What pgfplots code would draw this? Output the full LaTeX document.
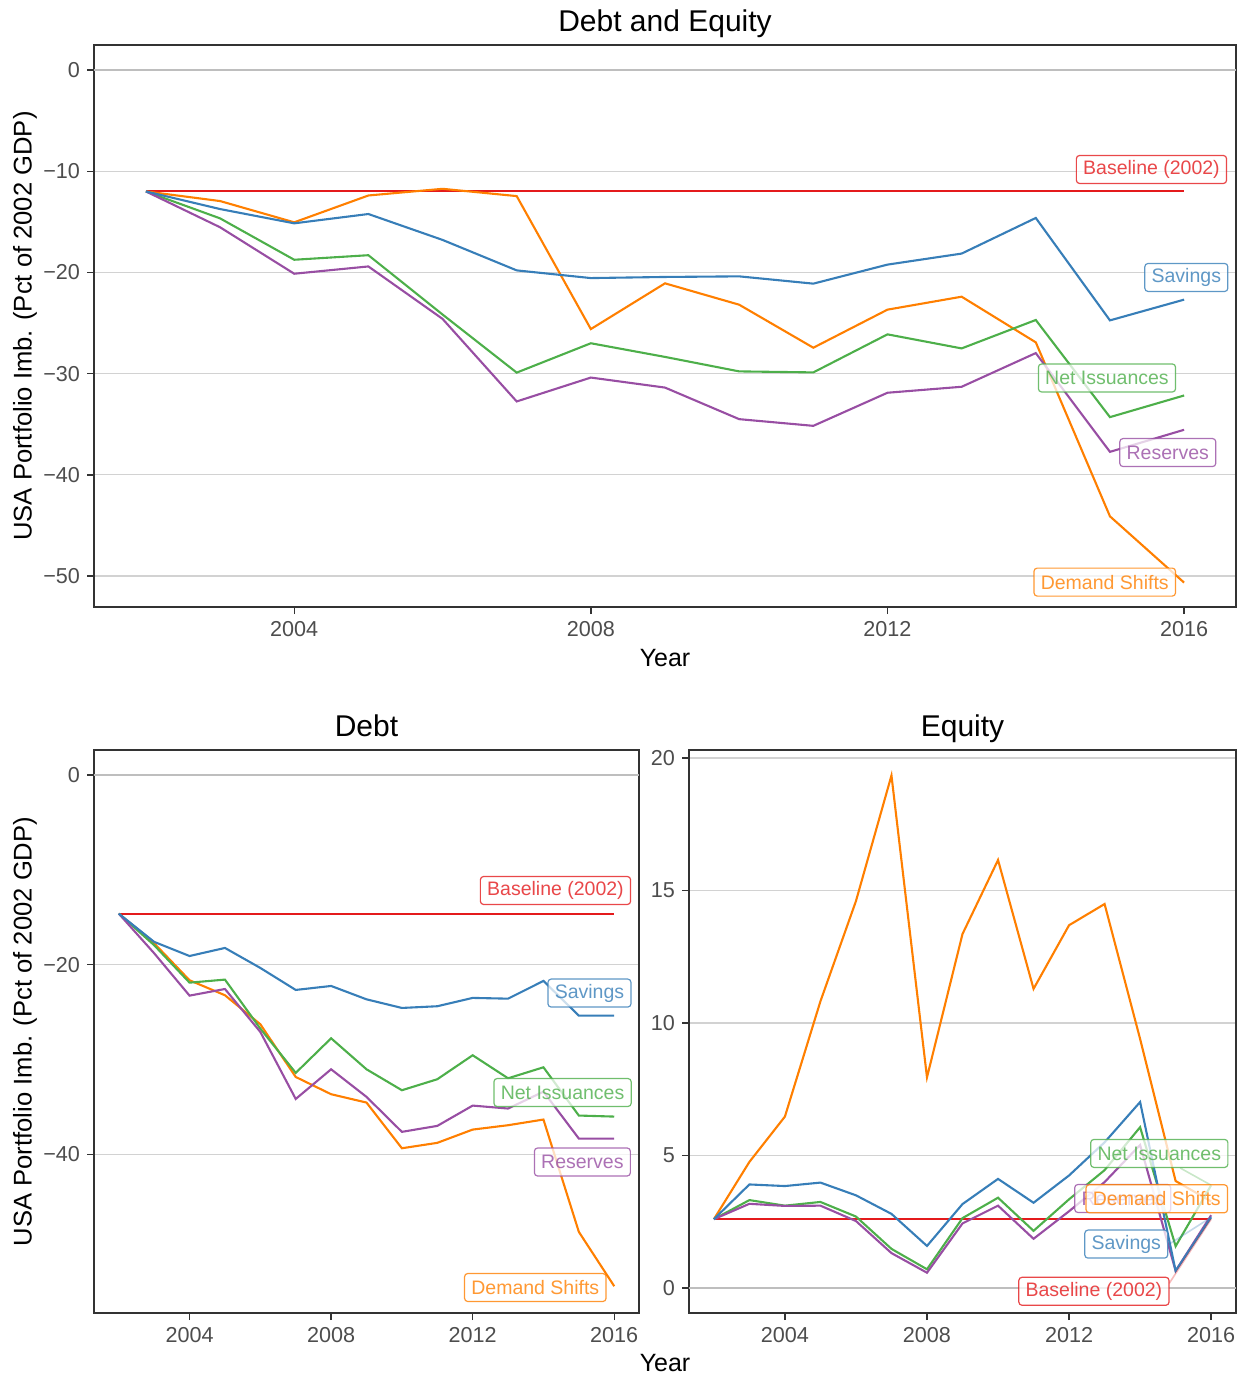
\documentclass[border=0pt]{standalone}
\usepackage{pgfplots}
\pgfplotsset{compat=1.18}
\usepackage{pgfplotstable}
\usepackage{fontspec}
\setmainfont{Liberation Sans}

\definecolor{cRed}{HTML}{E41A1C}
\definecolor{cBlue}{HTML}{377EB8}
\definecolor{cGreen}{HTML}{4DAF4A}
\definecolor{cPurple}{HTML}{984EA3}
\definecolor{cOrange}{HTML}{FF7F00}
\definecolor{gridc}{HTML}{D2D2D2}
\definecolor{zeroc}{HTML}{BEBEBE}
\definecolor{axc}{HTML}{333333}
\definecolor{tickc}{HTML}{4D4D4D}

% Debt and Equity (total)
\pgfplotstableread{
year base sav net res dem
2002 -12.0 -12.00 -12.00 -12.00 -12.00
2003 -12.0 -13.74 -14.66 -15.54 -12.95
2004 -12.0 -15.15 -18.75 -20.13 -15.05
2005 -12.0 -14.23 -18.30 -19.41 -12.40
2006 -12.0 -16.79 -24.16 -24.59 -11.74
2007 -12.0 -19.80 -29.90 -32.75 -12.46
2008 -12.0 -20.56 -27.00 -30.39 -25.60
2009 -12.0 -20.45 -28.35 -31.38 -21.08
2010 -12.0 -20.39 -29.78 -34.50 -23.19
2011 -12.0 -21.11 -29.88 -35.16 -27.44
2012 -12.0 -19.23 -26.12 -31.89 -23.68
2013 -12.0 -18.14 -27.51 -31.30 -22.40
2014 -12.0 -14.62 -24.70 -27.97 -26.91
2015 -12.0 -24.74 -34.30 -37.73 -44.10
2016 -12.0 -22.69 -32.16 -35.55 -50.65
}\tabTotal

% Debt
\pgfplotstableread{
year base sav net res dem
2002 -14.62 -14.62 -14.62 -14.62 -14.62
2003 -14.62 -17.60 -17.95 -18.80 -17.75
2004 -14.62 -19.09 -21.90 -23.27 -21.65
2005 -14.62 -18.24 -21.58 -22.57 -23.23
2006 -14.62 -20.35 -26.75 -27.10 -26.29
2007 -14.62 -22.67 -31.42 -34.17 -31.85
2008 -14.62 -22.25 -27.77 -31.04 -33.67
2009 -14.62 -23.66 -31.04 -33.95 -34.55
2010 -14.62 -24.57 -33.25 -37.64 -39.37
2011 -14.62 -24.39 -32.09 -37.01 -38.80
2012 -14.62 -23.51 -29.56 -34.87 -37.40
2013 -14.62 -23.59 -31.99 -35.18 -36.94
2014 -14.62 -21.72 -30.83 -33.40 -36.34
2015 -14.62 -25.38 -35.92 -38.35 -48.19
2016 -14.62 -25.38 -36.03 -38.35 -53.92
}\tabDebt

% Equity
\pgfplotstableread{
year base sav net res dem
2002 2.6 2.60 2.60 2.60 2.60
2003 2.6 3.91 3.32 3.18 4.76
2004 2.6 3.85 3.11 3.10 6.47
2005 2.6 3.98 3.25 3.11 10.82
2006 2.6 3.50 2.70 2.53 14.60
2007 2.6 2.80 1.48 1.32 19.34
2008 2.6 1.59 0.71 0.58 7.95
2009 2.6 3.17 2.64 2.44 13.36
2010 2.6 4.12 3.41 3.11 16.15
2011 2.6 3.22 2.16 1.86 11.29
2012 2.6 4.25 3.35 2.90 13.69
2013 2.6 5.50 4.45 4.00 14.49
2014 2.6 7.02 6.07 5.40 9.40
2015 2.6 0.65 1.58 0.65 4.04
2016 2.6 2.67 3.88 2.75 3.27
}\tabEq

\pgfplotsset{
  panel/.style={
    scale only axis, anchor=north west,
    axis line style={draw=axc, line width=0.7pt},
    every tick/.style={draw=axc, line width=0.7pt},
    tick align=outside, major tick length=3.5pt,
    xtick pos=left, ytick pos=left,
    ymajorgrids, xmajorgrids=false,
    major grid style={draw=gridc, line width=0.55pt},
    tick label style={font=\fontsize{10.8}{13}\selectfont, text=tickc},
    xmin=2001.3, xmax=2016.7,
    xtick={2004,2008,2012,2016}, xticklabels={2004,2008,2012,2016},
    every axis plot/.append style={line width=1.05pt, mark=none},
  },
}
\tikzset{
  lab/.style={draw=#1, draw opacity=0.8, text=#1, text opacity=0.8,
    fill=white, fill opacity=0.75, rounded corners=1.6pt, line width=0.6pt,
    font=\fontsize{9.75}{11}\selectfont, inner xsep=3.4pt, inner ysep=0pt,
    minimum height=14pt, anchor=center},
}

\begin{document}
\begin{tikzpicture}
\useasboundingbox (0,0) rectangle (619pt,-687pt);

% ---------- Top: Debt and Equity ----------
\begin{axis}[panel, at={(47pt,-22.5pt)}, width=571pt, height=281pt,
  ymin=-53.06, ymax=2.47,
  ytick={-50,-40,-30,-20,-10,0}, yticklabels={−50,−40,−30,−20,−10,0}]
\addplot[zeroc, line width=1pt, forget plot] coordinates {(2001.3,0) (2016.7,0)};
\addplot[cRed] table[x=year,y=base] {\tabTotal};
\addplot[cOrange] table[x=year,y=dem] {\tabTotal};
\addplot[cGreen] table[x=year,y=net] {\tabTotal};
\addplot[cPurple] table[x=year,y=res] {\tabTotal};
\addplot[cBlue] table[x=year,y=sav] {\tabTotal};
\node[lab=cRed] at (axis cs:2015.56,-9.83) {Baseline (2002)};
\node[lab=cBlue] at (axis cs:2016.03,-20.5) {Savings};
\node[lab=cGreen] at (axis cs:2014.96,-30.43) {Net Issuances};
\node[lab=cPurple] at (axis cs:2015.78,-37.8) {Reserves};
\node[lab=cOrange] at (axis cs:2014.93,-50.6) {Demand Shifts};
\end{axis}

% ---------- Bottom left: Debt ----------
\begin{axis}[panel, at={(47pt,-375pt)}, width=272.5pt, height=281.5pt,
  ymin=-56.75, ymax=2.64,
  ytick={-40,-20,0}, yticklabels={−40,−20,0}]
\addplot[zeroc, line width=1pt, forget plot] coordinates {(2001.3,0) (2016.7,0)};
\addplot[cRed] table[x=year,y=base] {\tabDebt};
\addplot[cOrange] table[x=year,y=dem] {\tabDebt};
\addplot[cGreen] table[x=year,y=net] {\tabDebt};
\addplot[cPurple] table[x=year,y=res] {\tabDebt};
\addplot[cBlue] table[x=year,y=sav] {\tabDebt};
\node[lab=cRed] at (axis cs:2014.34,-12.18) {Baseline (2002)};
\node[lab=cBlue] at (axis cs:2015.30,-23.0) {Savings};
\node[lab=cGreen] at (axis cs:2014.54,-33.49) {Net Issuances};
\node[lab=cPurple] at (axis cs:2015.10,-40.82) {Reserves};
\node[lab=cOrange] at (axis cs:2013.77,-54.06) {Demand Shifts};
\end{axis}

% ---------- Bottom right: Equity ----------
\begin{axis}[panel, at={(344.5pt,-375pt)}, width=273.5pt, height=281.5pt,
  ymin=-0.94, ymax=20.3,
  ytick={0,5,10,15,20}, yticklabels={0,5,10,15,20}]
\addplot[zeroc, line width=1pt, forget plot] coordinates {(2001.3,0) (2016.7,0)};
\addplot[cRed] table[x=year,y=base] {\tabEq};
\addplot[cOrange] table[x=year,y=dem] {\tabEq};
\addplot[cGreen] table[x=year,y=net] {\tabEq};
\addplot[cPurple] table[x=year,y=res] {\tabEq};
\addplot[cBlue] table[x=year,y=sav] {\tabEq};
\draw[cBlue, opacity=0.3, line width=0.8pt] (axis cs:2014.82,1.66) -- (axis cs:2016,2.67);
\draw[cRed, opacity=0.3, line width=0.8pt] (axis cs:2014.82,0.18) -- (axis cs:2016,2.6);
\draw[cGreen, opacity=0.3, line width=0.8pt] (axis cs:2015.13,4.53) -- (axis cs:2016,3.88);
\node[lab=cGreen] at (axis cs:2014.54,5.08) {Net Issuances};
\node[lab=cPurple] at (axis cs:2013.51,3.38) {Reserves};
\node[lab=cOrange] at (axis cs:2014.47,3.37) {Demand Shifts};
\node[lab=cBlue] at (axis cs:2013.61,1.66) {Savings};
\node[lab=cRed] at (axis cs:2012.70,-0.12) {Baseline (2002)};
\end{axis}

% ---------- Titles and axis titles ----------
\node[anchor=base, font=\fontsize{15}{18}\selectfont] at (332.5pt,-15.8pt) {Debt and Equity};
\node[anchor=base, font=\fontsize{15}{18}\selectfont] at (183.25pt,-368.3pt) {Debt};
\node[anchor=base, font=\fontsize{15}{18}\selectfont] at (481.25pt,-368.3pt) {Equity};
\node[anchor=base, font=\fontsize{12.5}{15}\selectfont] at (332.5pt,-333pt) {Year};
\node[anchor=base, font=\fontsize{12.5}{15}\selectfont] at (332.5pt,-685.5pt) {Year};
\node[anchor=base, rotate=90, font=\fontsize{12.8}{15}\selectfont] at (15.8pt,-163pt) {USA Portfolio Imb. (Pct of 2002 GDP)};
\node[anchor=base, rotate=90, font=\fontsize{12.8}{15}\selectfont] at (15.8pt,-515.75pt) {USA Portfolio Imb. (Pct of 2002 GDP)};
\end{tikzpicture}
\end{document}
